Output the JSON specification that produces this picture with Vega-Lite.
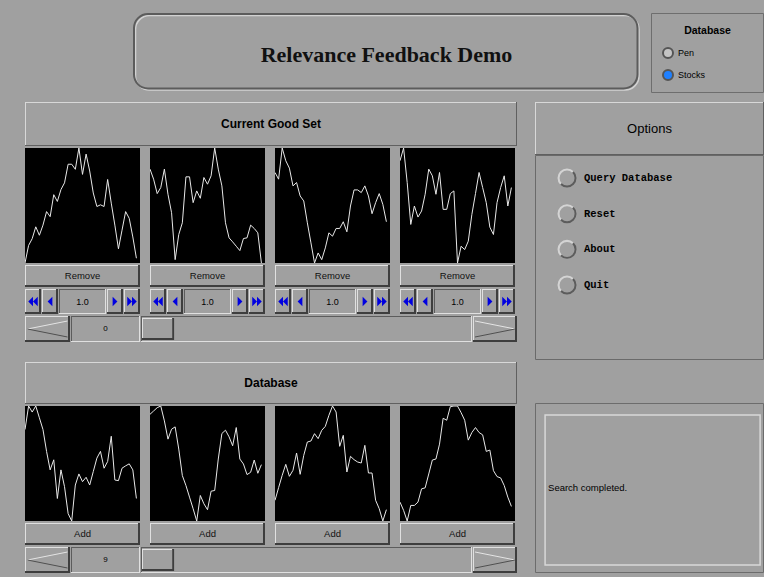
{
"$schema":"https://vega.github.io/schema/vega-lite/v6.json",
"background":"#a0a0a0",
"padding":{"left":25,"top":13,"right":0,"bottom":4},
"config":{"view":{"stroke":null},"text":{"font":"Liberation Sans","color":"#000"}},
"datasets":{
"series":[
{"set":"good","panel":1,"t":0,"v":6},{"set":"good","panel":1,"t":1,"v":58},{"set":"good","panel":1,"t":2,"v":78},{"set":"good","panel":1,"t":3,"v":113},{"set":"good","panel":1,"t":4,"v":88},{"set":"good","panel":1,"t":5,"v":118},{"set":"good","panel":1,"t":6,"v":158},{"set":"good","panel":1,"t":7,"v":143},{"set":"good","panel":1,"t":8,"v":208},{"set":"good","panel":1,"t":9,"v":188},{"set":"good","panel":1,"t":10,"v":223},{"set":"good","panel":1,"t":11,"v":243},{"set":"good","panel":1,"t":12,"v":298},{"set":"good","panel":1,"t":13,"v":298},{"set":"good","panel":1,"t":14,"v":283},{"set":"good","panel":1,"t":15,"v":346},{"set":"good","panel":1,"t":16,"v":268},{"set":"good","panel":1,"t":17,"v":328},{"set":"good","panel":1,"t":18,"v":278},{"set":"good","panel":1,"t":19,"v":213},{"set":"good","panel":1,"t":20,"v":173},{"set":"good","panel":1,"t":21,"v":178},{"set":"good","panel":1,"t":22,"v":173},{"set":"good","panel":1,"t":23,"v":253},{"set":"good","panel":1,"t":24,"v":183},{"set":"good","panel":1,"t":25,"v":118},{"set":"good","panel":1,"t":26,"v":48},{"set":"good","panel":1,"t":27,"v":103},{"set":"good","panel":1,"t":28,"v":158},{"set":"good","panel":1,"t":29,"v":138},{"set":"good","panel":1,"t":30,"v":83},{"set":"good","panel":1,"t":31,"v":20},
{"set":"good","panel":2,"t":0,"v":283},{"set":"good","panel":2,"t":1,"v":253},{"set":"good","panel":2,"t":2,"v":210},{"set":"good","panel":2,"t":3,"v":228},{"set":"good","panel":2,"t":4,"v":283},{"set":"good","panel":2,"t":5,"v":208},{"set":"good","panel":2,"t":6,"v":153},{"set":"good","panel":2,"t":7,"v":13},{"set":"good","panel":2,"t":8,"v":88},{"set":"good","panel":2,"t":9,"v":123},{"set":"good","panel":2,"t":10,"v":260},{"set":"good","panel":2,"t":11,"v":260},{"set":"good","panel":2,"t":12,"v":183},{"set":"good","panel":2,"t":13,"v":218},{"set":"good","panel":2,"t":14,"v":196},{"set":"good","panel":2,"t":15,"v":258},{"set":"good","panel":2,"t":16,"v":238},{"set":"good","panel":2,"t":17,"v":263},{"set":"good","panel":2,"t":18,"v":346},{"set":"good","panel":2,"t":19,"v":283},{"set":"good","panel":2,"t":20,"v":233},{"set":"good","panel":2,"t":21,"v":123},{"set":"good","panel":2,"t":22,"v":78},{"set":"good","panel":2,"t":23,"v":66},{"set":"good","panel":2,"t":24,"v":53},{"set":"good","panel":2,"t":25,"v":40},{"set":"good","panel":2,"t":26,"v":76},{"set":"good","panel":2,"t":27,"v":78},{"set":"good","panel":2,"t":28,"v":116},{"set":"good","panel":2,"t":29,"v":106},{"set":"good","panel":2,"t":30,"v":93},{"set":"good","panel":2,"t":31,"v":3},
{"set":"good","panel":3,"t":0,"v":273},{"set":"good","panel":3,"t":1,"v":253},{"set":"good","panel":3,"t":2,"v":346},{"set":"good","panel":3,"t":3,"v":308},{"set":"good","panel":3,"t":4,"v":286},{"set":"good","panel":3,"t":5,"v":233},{"set":"good","panel":3,"t":6,"v":243},{"set":"good","panel":3,"t":7,"v":203},{"set":"good","panel":3,"t":8,"v":188},{"set":"good","panel":3,"t":9,"v":123},{"set":"good","panel":3,"t":10,"v":63},{"set":"good","panel":3,"t":11,"v":3},{"set":"good","panel":3,"t":12,"v":33},{"set":"good","panel":3,"t":13,"v":13},{"set":"good","panel":3,"t":14,"v":48},{"set":"good","panel":3,"t":15,"v":93},{"set":"good","panel":3,"t":16,"v":83},{"set":"good","panel":3,"t":17,"v":106},{"set":"good","panel":3,"t":18,"v":106},{"set":"good","panel":3,"t":19,"v":126},{"set":"good","panel":3,"t":20,"v":96},{"set":"good","panel":3,"t":21,"v":173},{"set":"good","panel":3,"t":22,"v":221},{"set":"good","panel":3,"t":23,"v":221},{"set":"good","panel":3,"t":24,"v":213},{"set":"good","panel":3,"t":25,"v":233},{"set":"good","panel":3,"t":26,"v":203},{"set":"good","panel":3,"t":27,"v":150},{"set":"good","panel":3,"t":28,"v":183},{"set":"good","panel":3,"t":29,"v":210},{"set":"good","panel":3,"t":30,"v":178},{"set":"good","panel":3,"t":31,"v":126},
{"set":"good","panel":4,"t":0,"v":308},{"set":"good","panel":4,"t":1,"v":346},{"set":"good","panel":4,"t":2,"v":243},{"set":"good","panel":4,"t":3,"v":118},{"set":"good","panel":4,"t":4,"v":173},{"set":"good","panel":4,"t":5,"v":140},{"set":"good","panel":4,"t":6,"v":158},{"set":"good","panel":4,"t":7,"v":208},{"set":"good","panel":4,"t":8,"v":283},{"set":"good","panel":4,"t":9,"v":263},{"set":"good","panel":4,"t":10,"v":208},{"set":"good","panel":4,"t":11,"v":273},{"set":"good","panel":4,"t":12,"v":163},{"set":"good","panel":4,"t":13,"v":163},{"set":"good","panel":4,"t":14,"v":210},{"set":"good","panel":4,"t":15,"v":218},{"set":"good","panel":4,"t":16,"v":3},{"set":"good","panel":4,"t":17,"v":53},{"set":"good","panel":4,"t":18,"v":43},{"set":"good","panel":4,"t":19,"v":68},{"set":"good","panel":4,"t":20,"v":148},{"set":"good","panel":4,"t":21,"v":210},{"set":"good","panel":4,"t":22,"v":273},{"set":"good","panel":4,"t":23,"v":228},{"set":"good","panel":4,"t":24,"v":183},{"set":"good","panel":4,"t":25,"v":110},{"set":"good","panel":4,"t":26,"v":88},{"set":"good","panel":4,"t":27,"v":183},{"set":"good","panel":4,"t":28,"v":228},{"set":"good","panel":4,"t":29,"v":263},{"set":"good","panel":4,"t":30,"v":173},{"set":"good","panel":4,"t":31,"v":228},
{"set":"db","panel":1,"t":0,"v":272},{"set":"db","panel":1,"t":1,"v":342},{"set":"db","panel":1,"t":2,"v":324},{"set":"db","panel":1,"t":3,"v":342},{"set":"db","panel":1,"t":4,"v":307},{"set":"db","panel":1,"t":5,"v":272},{"set":"db","panel":1,"t":6,"v":207},{"set":"db","panel":1,"t":7,"v":152},{"set":"db","panel":1,"t":8,"v":182},{"set":"db","panel":1,"t":9,"v":67},{"set":"db","panel":1,"t":10,"v":152},{"set":"db","panel":1,"t":11,"v":102},{"set":"db","panel":1,"t":12,"v":22},{"set":"db","panel":1,"t":13,"v":0},{"set":"db","panel":1,"t":14,"v":107},{"set":"db","panel":1,"t":15,"v":140},{"set":"db","panel":1,"t":16,"v":117},{"set":"db","panel":1,"t":17,"v":130},{"set":"db","panel":1,"t":18,"v":107},{"set":"db","panel":1,"t":19,"v":147},{"set":"db","panel":1,"t":20,"v":187},{"set":"db","panel":1,"t":21,"v":207},{"set":"db","panel":1,"t":22,"v":157},{"set":"db","panel":1,"t":23,"v":177},{"set":"db","panel":1,"t":24,"v":252},{"set":"db","panel":1,"t":25,"v":122},{"set":"db","panel":1,"t":26,"v":120},{"set":"db","panel":1,"t":27,"v":157},{"set":"db","panel":1,"t":28,"v":164},{"set":"db","panel":1,"t":29,"v":170},{"set":"db","panel":1,"t":30,"v":152},{"set":"db","panel":1,"t":31,"v":67},
{"set":"db","panel":2,"t":0,"v":322},{"set":"db","panel":2,"t":1,"v":332},{"set":"db","panel":2,"t":2,"v":342},{"set":"db","panel":2,"t":3,"v":347},{"set":"db","panel":2,"t":4,"v":302},{"set":"db","panel":2,"t":5,"v":247},{"set":"db","panel":2,"t":6,"v":277},{"set":"db","panel":2,"t":7,"v":284},{"set":"db","panel":2,"t":8,"v":217},{"set":"db","panel":2,"t":9,"v":137},{"set":"db","panel":2,"t":10,"v":107},{"set":"db","panel":2,"t":11,"v":72},{"set":"db","panel":2,"t":12,"v":37},{"set":"db","panel":2,"t":13,"v":0},{"set":"db","panel":2,"t":14,"v":77},{"set":"db","panel":2,"t":15,"v":52},{"set":"db","panel":2,"t":16,"v":34},{"set":"db","panel":2,"t":17,"v":90},{"set":"db","panel":2,"t":18,"v":92},{"set":"db","panel":2,"t":19,"v":187},{"set":"db","panel":2,"t":20,"v":264},{"set":"db","panel":2,"t":21,"v":274},{"set":"db","panel":2,"t":22,"v":254},{"set":"db","panel":2,"t":23,"v":227},{"set":"db","panel":2,"t":24,"v":282},{"set":"db","panel":2,"t":25,"v":187},{"set":"db","panel":2,"t":26,"v":172},{"set":"db","panel":2,"t":27,"v":140},{"set":"db","panel":2,"t":28,"v":147},{"set":"db","panel":2,"t":29,"v":184},{"set":"db","panel":2,"t":30,"v":144},{"set":"db","panel":2,"t":31,"v":170},
{"set":"db","panel":3,"t":0,"v":62},{"set":"db","panel":3,"t":1,"v":100},{"set":"db","panel":3,"t":2,"v":137},{"set":"db","panel":3,"t":3,"v":170},{"set":"db","panel":3,"t":4,"v":134},{"set":"db","panel":3,"t":5,"v":152},{"set":"db","panel":3,"t":6,"v":204},{"set":"db","panel":3,"t":7,"v":140},{"set":"db","panel":3,"t":8,"v":197},{"set":"db","panel":3,"t":9,"v":237},{"set":"db","panel":3,"t":10,"v":240},{"set":"db","panel":3,"t":11,"v":262},{"set":"db","panel":3,"t":12,"v":247},{"set":"db","panel":3,"t":13,"v":272},{"set":"db","panel":3,"t":14,"v":284},{"set":"db","panel":3,"t":15,"v":317},{"set":"db","panel":3,"t":16,"v":345},{"set":"db","panel":3,"t":17,"v":327},{"set":"db","panel":3,"t":18,"v":224},{"set":"db","panel":3,"t":19,"v":257},{"set":"db","panel":3,"t":20,"v":147},{"set":"db","panel":3,"t":21,"v":194},{"set":"db","panel":3,"t":22,"v":184},{"set":"db","panel":3,"t":23,"v":177},{"set":"db","panel":3,"t":24,"v":174},{"set":"db","panel":3,"t":25,"v":227},{"set":"db","panel":3,"t":26,"v":144},{"set":"db","panel":3,"t":27,"v":144},{"set":"db","panel":3,"t":28,"v":62},{"set":"db","panel":3,"t":29,"v":37},{"set":"db","panel":3,"t":30,"v":0},{"set":"db","panel":3,"t":31,"v":34},
{"set":"db","panel":4,"t":0,"v":57},{"set":"db","panel":4,"t":1,"v":32},{"set":"db","panel":4,"t":2,"v":0},{"set":"db","panel":4,"t":3,"v":47},{"set":"db","panel":4,"t":4,"v":47},{"set":"db","panel":4,"t":5,"v":57},{"set":"db","panel":4,"t":6,"v":97},{"set":"db","panel":4,"t":7,"v":100},{"set":"db","panel":4,"t":8,"v":142},{"set":"db","panel":4,"t":9,"v":184},{"set":"db","panel":4,"t":10,"v":187},{"set":"db","panel":4,"t":11,"v":232},{"set":"db","panel":4,"t":12,"v":310},{"set":"db","panel":4,"t":13,"v":304},{"set":"db","panel":4,"t":14,"v":345},{"set":"db","panel":4,"t":15,"v":347},{"set":"db","panel":4,"t":16,"v":347},{"set":"db","panel":4,"t":17,"v":327},{"set":"db","panel":4,"t":18,"v":304},{"set":"db","panel":4,"t":19,"v":244},{"set":"db","panel":4,"t":20,"v":267},{"set":"db","panel":4,"t":21,"v":282},{"set":"db","panel":4,"t":22,"v":267},{"set":"db","panel":4,"t":23,"v":260},{"set":"db","panel":4,"t":24,"v":210},{"set":"db","panel":4,"t":25,"v":214},{"set":"db","panel":4,"t":26,"v":152},{"set":"db","panel":4,"t":27,"v":134},{"set":"db","panel":4,"t":28,"v":130},{"set":"db","panel":4,"t":29,"v":107},{"set":"db","panel":4,"t":30,"v":72},{"set":"db","panel":4,"t":31,"v":44}
]
},
"spacing":9,
"vconcat":[
{"spacing":11,"hconcat":[
 {"width":97,"height":1,"data":{"values":[{}]},"mark":{"type":"rect","opacity":0},"encoding":{"x":{"datum":0,"type":"quantitative","axis":null},"x2":{"datum":1},"y":{"datum":0,"type":"quantitative","axis":null},"y2":{"datum":1}}},
 {"width":507,"height":78,"data":{"values":[{"label":"Relevance Feedback Demo"}]},"layer":[
  {"mark":{"type":"rect","fillOpacity":0,"stroke":"#d2d2d2","strokeWidth":1.5,"cornerRadius":14,"xOffset":2.5,"x2Offset":-1,"yOffset":-1,"y2Offset":2.5},"encoding":{"x":{"datum":0,"type":"quantitative","scale":{"domain":[0,1],"nice":false,"zero":false},"axis":null},"x2":{"datum":1},"y":{"datum":0,"type":"quantitative","scale":{"domain":[0,1],"nice":false,"zero":false},"axis":null},"y2":{"datum":1}}},
  {"mark":{"type":"rect","fillOpacity":0,"stroke":"#5c5c5c","strokeWidth":2,"cornerRadius":14,"xOffset":1,"x2Offset":-2.5,"yOffset":-2.5,"y2Offset":1},"encoding":{"x":{"datum":0,"type":"quantitative"},"x2":{"datum":1},"y":{"datum":0,"type":"quantitative"},"y2":{"datum":1}}},
  {"mark":{"type":"text","font":"Liberation Serif","fontWeight":"bold","fontSize":22,"color":"#111","dy":3},"encoding":{"text":{"field":"label"}}}
 ]},
 {"width":113,"height":80,
  "data":{"values":[{"item":"Database","kind":"title","on":false},{"item":"Pen","kind":"radio","on":false},{"item":"Stocks","kind":"radio","on":true}]},
  "resolve":{"scale":{"x":"independent","y":"independent"}},
  "layer":[
   {"transform":[{"filter":"datum.kind==='title'"}],"mark":{"type":"rect","fillOpacity":0,"stroke":"#6e6e6e","strokeWidth":1,"xOffset":0.5,"x2Offset":-0.5,"yOffset":-0.5,"y2Offset":0.5},"encoding":{"x":{"datum":0,"type":"quantitative","scale":{"domain":[0,1],"nice":false,"zero":false},"axis":null},"x2":{"datum":1},"y":{"datum":0,"type":"quantitative","scale":{"domain":[0,1],"nice":false,"zero":false},"axis":null},"y2":{"datum":1}}},
   {"transform":[{"filter":"datum.kind==='title'"}],"mark":{"type":"text","fontWeight":"bold","fontSize":10.5},"encoding":{"y":{"field":"item","type":"nominal","scale":{"type":"point","domain":["Database","Pen","Stocks"],"range":[18,62],"padding":0},"axis":null},"text":{"field":"item"}}},
   {"transform":[{"filter":"datum.kind==='radio'"}],"mark":{"type":"point","shape":"circle","filled":true,"size":100,"stroke":"#555555","strokeWidth":2,"opacity":1},"encoding":{"x":{"datum":"radio","type":"nominal","scale":{"type":"point","domain":["radio","label"],"range":[17,27],"padding":0},"axis":null},"y":{"field":"item","type":"nominal","scale":{"type":"point","domain":["Database","Pen","Stocks"],"range":[18,62],"padding":0},"axis":null},"fill":{"condition":{"test":"datum.on","value":"#1f80ff"},"value":"#c4c4c4"}}},
   {"transform":[{"filter":"datum.kind==='radio'"}],"mark":{"type":"text","align":"left","fontSize":9},"encoding":{"x":{"datum":"label","type":"nominal","scale":{"type":"point","domain":["radio","label"],"range":[17,27],"padding":0},"axis":null},"y":{"field":"item","type":"nominal","scale":{"type":"point","domain":["Database","Pen","Stocks"],"range":[18,62],"padding":0},"axis":null},"text":{"field":"item"}}}
  ]}
]},
{"spacing":18,"hconcat":[
 {"spacing":2,"vconcat":[
  {"width":492,"height":44,"data":{"values":[{"label":"Current Good Set"}]},"layer":[
   {"mark":{"type":"rect","fill":"#606060"},"encoding":{"x":{"datum":0,"type":"quantitative","scale":{"domain":[0,1],"nice":false,"zero":false},"axis":null},"x2":{"datum":1},"y":{"datum":0,"type":"quantitative","scale":{"domain":[0,1],"nice":false,"zero":false},"axis":null},"y2":{"datum":1}}},
   {"mark":{"type":"rect","fill":"#d8d8d8","x2Offset":-1,"yOffset":-1},"encoding":{"x":{"datum":0,"type":"quantitative"},"x2":{"datum":1},"y":{"datum":0,"type":"quantitative"},"y2":{"datum":1}}},
   {"mark":{"type":"rect","fill":"#a0a0a0","xOffset":1,"x2Offset":-1,"yOffset":-1,"y2Offset":1},"encoding":{"x":{"datum":0,"type":"quantitative"},"x2":{"datum":1},"y":{"datum":0,"type":"quantitative"},"y2":{"datum":1}}},
   {"mark":{"type":"text","fontWeight":"bold","fontSize":12},"encoding":{"text":{"field":"label"}}}
  ]},
  {"spacing":10,"hconcat":[
   {"width":115,"height":115,"view":{"fill":"#000000","stroke":null},"data":{"name":"series"},"transform":[{"filter":"datum.set==='good' && datum.panel===1"}],"mark":{"type":"line","color":"#e8e8e8","strokeWidth":1,"strokeJoin":"round","clip":true},"encoding":{"x":{"field":"t","type":"quantitative","axis":null,"scale":{"domain":[0,32],"nice":false}},"y":{"field":"v","type":"quantitative","axis":null,"scale":{"zero":false,"nice":false}}}},
   {"width":115,"height":115,"view":{"fill":"#000000","stroke":null},"data":{"name":"series"},"transform":[{"filter":"datum.set==='good' && datum.panel===2"}],"mark":{"type":"line","color":"#e8e8e8","strokeWidth":1,"strokeJoin":"round","clip":true},"encoding":{"x":{"field":"t","type":"quantitative","axis":null,"scale":{"domain":[0,32],"nice":false}},"y":{"field":"v","type":"quantitative","axis":null,"scale":{"zero":false,"nice":false}}}},
   {"width":115,"height":115,"view":{"fill":"#000000","stroke":null},"data":{"name":"series"},"transform":[{"filter":"datum.set==='good' && datum.panel===3"}],"mark":{"type":"line","color":"#e8e8e8","strokeWidth":1,"strokeJoin":"round","clip":true},"encoding":{"x":{"field":"t","type":"quantitative","axis":null,"scale":{"domain":[0,32],"nice":false}},"y":{"field":"v","type":"quantitative","axis":null,"scale":{"zero":false,"nice":false}}}},
   {"width":115,"height":115,"view":{"fill":"#000000","stroke":null},"data":{"name":"series"},"transform":[{"filter":"datum.set==='good' && datum.panel===4"}],"mark":{"type":"line","color":"#e8e8e8","strokeWidth":1,"strokeJoin":"round","clip":true},"encoding":{"x":{"field":"t","type":"quantitative","axis":null,"scale":{"domain":[0,32],"nice":false}},"y":{"field":"v","type":"quantitative","axis":null,"scale":{"zero":false,"nice":false}}}}
  ]},
  {"spacing":10,"hconcat":[
   {"width":115,"height":22,"data":{"values":[{"label":"Remove"}]},"layer":[
    {"mark":{"type":"rect","fill":"#3e3e3e"},"encoding":{"x":{"datum":0,"type":"quantitative","scale":{"domain":[0,1],"nice":false,"zero":false},"axis":null},"x2":{"datum":1},"y":{"datum":0,"type":"quantitative","scale":{"domain":[0,1],"nice":false,"zero":false},"axis":null},"y2":{"datum":1}}},
    {"mark":{"type":"rect","fill":"#e0e0e0","x2Offset":-2,"yOffset":-2},"encoding":{"x":{"datum":0,"type":"quantitative"},"x2":{"datum":1},"y":{"datum":0,"type":"quantitative"},"y2":{"datum":1}}},
    {"mark":{"type":"rect","fill":"#a0a0a0","xOffset":1,"x2Offset":-2,"yOffset":-2,"y2Offset":1},"encoding":{"x":{"datum":0,"type":"quantitative"},"x2":{"datum":1},"y":{"datum":0,"type":"quantitative"},"y2":{"datum":1}}},
    {"mark":{"type":"text","fontSize":9.5,"color":"#111"},"encoding":{"text":{"field":"label"}}}
   ]},
   {"width":115,"height":22,"data":{"values":[{"label":"Remove"}]},"layer":[
    {"mark":{"type":"rect","fill":"#3e3e3e"},"encoding":{"x":{"datum":0,"type":"quantitative","scale":{"domain":[0,1],"nice":false,"zero":false},"axis":null},"x2":{"datum":1},"y":{"datum":0,"type":"quantitative","scale":{"domain":[0,1],"nice":false,"zero":false},"axis":null},"y2":{"datum":1}}},
    {"mark":{"type":"rect","fill":"#e0e0e0","x2Offset":-2,"yOffset":-2},"encoding":{"x":{"datum":0,"type":"quantitative"},"x2":{"datum":1},"y":{"datum":0,"type":"quantitative"},"y2":{"datum":1}}},
    {"mark":{"type":"rect","fill":"#a0a0a0","xOffset":1,"x2Offset":-2,"yOffset":-2,"y2Offset":1},"encoding":{"x":{"datum":0,"type":"quantitative"},"x2":{"datum":1},"y":{"datum":0,"type":"quantitative"},"y2":{"datum":1}}},
    {"mark":{"type":"text","fontSize":9.5,"color":"#111"},"encoding":{"text":{"field":"label"}}}
   ]},
   {"width":115,"height":22,"data":{"values":[{"label":"Remove"}]},"layer":[
    {"mark":{"type":"rect","fill":"#3e3e3e"},"encoding":{"x":{"datum":0,"type":"quantitative","scale":{"domain":[0,1],"nice":false,"zero":false},"axis":null},"x2":{"datum":1},"y":{"datum":0,"type":"quantitative","scale":{"domain":[0,1],"nice":false,"zero":false},"axis":null},"y2":{"datum":1}}},
    {"mark":{"type":"rect","fill":"#e0e0e0","x2Offset":-2,"yOffset":-2},"encoding":{"x":{"datum":0,"type":"quantitative"},"x2":{"datum":1},"y":{"datum":0,"type":"quantitative"},"y2":{"datum":1}}},
    {"mark":{"type":"rect","fill":"#a0a0a0","xOffset":1,"x2Offset":-2,"yOffset":-2,"y2Offset":1},"encoding":{"x":{"datum":0,"type":"quantitative"},"x2":{"datum":1},"y":{"datum":0,"type":"quantitative"},"y2":{"datum":1}}},
    {"mark":{"type":"text","fontSize":9.5,"color":"#111"},"encoding":{"text":{"field":"label"}}}
   ]},
   {"width":115,"height":22,"data":{"values":[{"label":"Remove"}]},"layer":[
    {"mark":{"type":"rect","fill":"#3e3e3e"},"encoding":{"x":{"datum":0,"type":"quantitative","scale":{"domain":[0,1],"nice":false,"zero":false},"axis":null},"x2":{"datum":1},"y":{"datum":0,"type":"quantitative","scale":{"domain":[0,1],"nice":false,"zero":false},"axis":null},"y2":{"datum":1}}},
    {"mark":{"type":"rect","fill":"#e0e0e0","x2Offset":-2,"yOffset":-2},"encoding":{"x":{"datum":0,"type":"quantitative"},"x2":{"datum":1},"y":{"datum":0,"type":"quantitative"},"y2":{"datum":1}}},
    {"mark":{"type":"rect","fill":"#a0a0a0","xOffset":1,"x2Offset":-2,"yOffset":-2,"y2Offset":1},"encoding":{"x":{"datum":0,"type":"quantitative"},"x2":{"datum":1},"y":{"datum":0,"type":"quantitative"},"y2":{"datum":1}}},
    {"mark":{"type":"text","fontSize":9.5,"color":"#111"},"encoding":{"text":{"field":"label"}}}
   ]}
  ]},
  {"spacing":10,"hconcat":[
   {"spacing":1,"hconcat":[
    {"width":16,"height":25,"data":{"values":[{"btn":"first"}]},"layer":[
     {"mark":{"type":"rect","fill":"#3e3e3e"},"encoding":{"x":{"datum":0,"type":"quantitative","scale":{"domain":[0,1],"nice":false,"zero":false},"axis":null},"x2":{"datum":1},"y":{"datum":0,"type":"quantitative","scale":{"domain":[0,1],"nice":false,"zero":false},"axis":null},"y2":{"datum":1}}},
     {"mark":{"type":"rect","fill":"#e0e0e0","x2Offset":-2,"yOffset":-2},"encoding":{"x":{"datum":0,"type":"quantitative"},"x2":{"datum":1},"y":{"datum":0,"type":"quantitative"},"y2":{"datum":1}}},
     {"mark":{"type":"rect","fill":"#a0a0a0","xOffset":1,"x2Offset":-2,"yOffset":-2,"y2Offset":1},"encoding":{"x":{"datum":0,"type":"quantitative"},"x2":{"datum":1},"y":{"datum":0,"type":"quantitative"},"y2":{"datum":1}}},
     {"mark":{"type":"point","shape":"M0,-1L-1,0L0,1ZM1,-1L0,0L1,1Z","filled":true,"size":90,"color":"#0000e0","opacity":1},"encoding":{}}
    ]},
    {"width":16,"height":25,"data":{"values":[{"btn":"prev"}]},"layer":[
     {"mark":{"type":"rect","fill":"#3e3e3e"},"encoding":{"x":{"datum":0,"type":"quantitative","scale":{"domain":[0,1],"nice":false,"zero":false},"axis":null},"x2":{"datum":1},"y":{"datum":0,"type":"quantitative","scale":{"domain":[0,1],"nice":false,"zero":false},"axis":null},"y2":{"datum":1}}},
     {"mark":{"type":"rect","fill":"#e0e0e0","x2Offset":-2,"yOffset":-2},"encoding":{"x":{"datum":0,"type":"quantitative"},"x2":{"datum":1},"y":{"datum":0,"type":"quantitative"},"y2":{"datum":1}}},
     {"mark":{"type":"rect","fill":"#a0a0a0","xOffset":1,"x2Offset":-2,"yOffset":-2,"y2Offset":1},"encoding":{"x":{"datum":0,"type":"quantitative"},"x2":{"datum":1},"y":{"datum":0,"type":"quantitative"},"y2":{"datum":1}}},
     {"mark":{"type":"point","shape":"M0.5,-1L-0.5,0L0.5,1Z","filled":true,"size":90,"color":"#0000e0","opacity":1},"encoding":{}}
    ]},
    {"width":47,"height":25,"data":{"values":[{"label":"1.0"}]},"layer":[
     {"mark":{"type":"rect","fill":"#e0e0e0"},"encoding":{"x":{"datum":0,"type":"quantitative","scale":{"domain":[0,1],"nice":false,"zero":false},"axis":null},"x2":{"datum":1},"y":{"datum":0,"type":"quantitative","scale":{"domain":[0,1],"nice":false,"zero":false},"axis":null},"y2":{"datum":1}}},
     {"mark":{"type":"rect","fill":"#5c5c5c","x2Offset":-1,"yOffset":-1},"encoding":{"x":{"datum":0,"type":"quantitative"},"x2":{"datum":1},"y":{"datum":0,"type":"quantitative"},"y2":{"datum":1}}},
     {"mark":{"type":"rect","fill":"#a0a0a0","xOffset":1,"x2Offset":-1,"yOffset":-1,"y2Offset":1},"encoding":{"x":{"datum":0,"type":"quantitative"},"x2":{"datum":1},"y":{"datum":0,"type":"quantitative"},"y2":{"datum":1}}},
     {"mark":{"type":"text","fontSize":9},"encoding":{"text":{"field":"label"}}}
    ]},
    {"width":16,"height":25,"data":{"values":[{"btn":"next"}]},"layer":[
     {"mark":{"type":"rect","fill":"#3e3e3e"},"encoding":{"x":{"datum":0,"type":"quantitative","scale":{"domain":[0,1],"nice":false,"zero":false},"axis":null},"x2":{"datum":1},"y":{"datum":0,"type":"quantitative","scale":{"domain":[0,1],"nice":false,"zero":false},"axis":null},"y2":{"datum":1}}},
     {"mark":{"type":"rect","fill":"#e0e0e0","x2Offset":-2,"yOffset":-2},"encoding":{"x":{"datum":0,"type":"quantitative"},"x2":{"datum":1},"y":{"datum":0,"type":"quantitative"},"y2":{"datum":1}}},
     {"mark":{"type":"rect","fill":"#a0a0a0","xOffset":1,"x2Offset":-2,"yOffset":-2,"y2Offset":1},"encoding":{"x":{"datum":0,"type":"quantitative"},"x2":{"datum":1},"y":{"datum":0,"type":"quantitative"},"y2":{"datum":1}}},
     {"mark":{"type":"point","shape":"M-0.5,-1L0.5,0L-0.5,1Z","filled":true,"size":90,"color":"#0000e0","opacity":1},"encoding":{}}
    ]},
    {"width":16,"height":25,"data":{"values":[{"btn":"last"}]},"layer":[
     {"mark":{"type":"rect","fill":"#3e3e3e"},"encoding":{"x":{"datum":0,"type":"quantitative","scale":{"domain":[0,1],"nice":false,"zero":false},"axis":null},"x2":{"datum":1},"y":{"datum":0,"type":"quantitative","scale":{"domain":[0,1],"nice":false,"zero":false},"axis":null},"y2":{"datum":1}}},
     {"mark":{"type":"rect","fill":"#e0e0e0","x2Offset":-2,"yOffset":-2},"encoding":{"x":{"datum":0,"type":"quantitative"},"x2":{"datum":1},"y":{"datum":0,"type":"quantitative"},"y2":{"datum":1}}},
     {"mark":{"type":"rect","fill":"#a0a0a0","xOffset":1,"x2Offset":-2,"yOffset":-2,"y2Offset":1},"encoding":{"x":{"datum":0,"type":"quantitative"},"x2":{"datum":1},"y":{"datum":0,"type":"quantitative"},"y2":{"datum":1}}},
     {"mark":{"type":"point","shape":"M-1,-1L0,0L-1,1ZM0,-1L1,0L0,1Z","filled":true,"size":90,"color":"#0000e0","opacity":1},"encoding":{}}
    ]}
   ]},
   {"spacing":1,"hconcat":[
    {"width":16,"height":25,"data":{"values":[{"btn":"first"}]},"layer":[
     {"mark":{"type":"rect","fill":"#3e3e3e"},"encoding":{"x":{"datum":0,"type":"quantitative","scale":{"domain":[0,1],"nice":false,"zero":false},"axis":null},"x2":{"datum":1},"y":{"datum":0,"type":"quantitative","scale":{"domain":[0,1],"nice":false,"zero":false},"axis":null},"y2":{"datum":1}}},
     {"mark":{"type":"rect","fill":"#e0e0e0","x2Offset":-2,"yOffset":-2},"encoding":{"x":{"datum":0,"type":"quantitative"},"x2":{"datum":1},"y":{"datum":0,"type":"quantitative"},"y2":{"datum":1}}},
     {"mark":{"type":"rect","fill":"#a0a0a0","xOffset":1,"x2Offset":-2,"yOffset":-2,"y2Offset":1},"encoding":{"x":{"datum":0,"type":"quantitative"},"x2":{"datum":1},"y":{"datum":0,"type":"quantitative"},"y2":{"datum":1}}},
     {"mark":{"type":"point","shape":"M0,-1L-1,0L0,1ZM1,-1L0,0L1,1Z","filled":true,"size":90,"color":"#0000e0","opacity":1},"encoding":{}}
    ]},
    {"width":16,"height":25,"data":{"values":[{"btn":"prev"}]},"layer":[
     {"mark":{"type":"rect","fill":"#3e3e3e"},"encoding":{"x":{"datum":0,"type":"quantitative","scale":{"domain":[0,1],"nice":false,"zero":false},"axis":null},"x2":{"datum":1},"y":{"datum":0,"type":"quantitative","scale":{"domain":[0,1],"nice":false,"zero":false},"axis":null},"y2":{"datum":1}}},
     {"mark":{"type":"rect","fill":"#e0e0e0","x2Offset":-2,"yOffset":-2},"encoding":{"x":{"datum":0,"type":"quantitative"},"x2":{"datum":1},"y":{"datum":0,"type":"quantitative"},"y2":{"datum":1}}},
     {"mark":{"type":"rect","fill":"#a0a0a0","xOffset":1,"x2Offset":-2,"yOffset":-2,"y2Offset":1},"encoding":{"x":{"datum":0,"type":"quantitative"},"x2":{"datum":1},"y":{"datum":0,"type":"quantitative"},"y2":{"datum":1}}},
     {"mark":{"type":"point","shape":"M0.5,-1L-0.5,0L0.5,1Z","filled":true,"size":90,"color":"#0000e0","opacity":1},"encoding":{}}
    ]},
    {"width":47,"height":25,"data":{"values":[{"label":"1.0"}]},"layer":[
     {"mark":{"type":"rect","fill":"#e0e0e0"},"encoding":{"x":{"datum":0,"type":"quantitative","scale":{"domain":[0,1],"nice":false,"zero":false},"axis":null},"x2":{"datum":1},"y":{"datum":0,"type":"quantitative","scale":{"domain":[0,1],"nice":false,"zero":false},"axis":null},"y2":{"datum":1}}},
     {"mark":{"type":"rect","fill":"#5c5c5c","x2Offset":-1,"yOffset":-1},"encoding":{"x":{"datum":0,"type":"quantitative"},"x2":{"datum":1},"y":{"datum":0,"type":"quantitative"},"y2":{"datum":1}}},
     {"mark":{"type":"rect","fill":"#a0a0a0","xOffset":1,"x2Offset":-1,"yOffset":-1,"y2Offset":1},"encoding":{"x":{"datum":0,"type":"quantitative"},"x2":{"datum":1},"y":{"datum":0,"type":"quantitative"},"y2":{"datum":1}}},
     {"mark":{"type":"text","fontSize":9},"encoding":{"text":{"field":"label"}}}
    ]},
    {"width":16,"height":25,"data":{"values":[{"btn":"next"}]},"layer":[
     {"mark":{"type":"rect","fill":"#3e3e3e"},"encoding":{"x":{"datum":0,"type":"quantitative","scale":{"domain":[0,1],"nice":false,"zero":false},"axis":null},"x2":{"datum":1},"y":{"datum":0,"type":"quantitative","scale":{"domain":[0,1],"nice":false,"zero":false},"axis":null},"y2":{"datum":1}}},
     {"mark":{"type":"rect","fill":"#e0e0e0","x2Offset":-2,"yOffset":-2},"encoding":{"x":{"datum":0,"type":"quantitative"},"x2":{"datum":1},"y":{"datum":0,"type":"quantitative"},"y2":{"datum":1}}},
     {"mark":{"type":"rect","fill":"#a0a0a0","xOffset":1,"x2Offset":-2,"yOffset":-2,"y2Offset":1},"encoding":{"x":{"datum":0,"type":"quantitative"},"x2":{"datum":1},"y":{"datum":0,"type":"quantitative"},"y2":{"datum":1}}},
     {"mark":{"type":"point","shape":"M-0.5,-1L0.5,0L-0.5,1Z","filled":true,"size":90,"color":"#0000e0","opacity":1},"encoding":{}}
    ]},
    {"width":16,"height":25,"data":{"values":[{"btn":"last"}]},"layer":[
     {"mark":{"type":"rect","fill":"#3e3e3e"},"encoding":{"x":{"datum":0,"type":"quantitative","scale":{"domain":[0,1],"nice":false,"zero":false},"axis":null},"x2":{"datum":1},"y":{"datum":0,"type":"quantitative","scale":{"domain":[0,1],"nice":false,"zero":false},"axis":null},"y2":{"datum":1}}},
     {"mark":{"type":"rect","fill":"#e0e0e0","x2Offset":-2,"yOffset":-2},"encoding":{"x":{"datum":0,"type":"quantitative"},"x2":{"datum":1},"y":{"datum":0,"type":"quantitative"},"y2":{"datum":1}}},
     {"mark":{"type":"rect","fill":"#a0a0a0","xOffset":1,"x2Offset":-2,"yOffset":-2,"y2Offset":1},"encoding":{"x":{"datum":0,"type":"quantitative"},"x2":{"datum":1},"y":{"datum":0,"type":"quantitative"},"y2":{"datum":1}}},
     {"mark":{"type":"point","shape":"M-1,-1L0,0L-1,1ZM0,-1L1,0L0,1Z","filled":true,"size":90,"color":"#0000e0","opacity":1},"encoding":{}}
    ]}
   ]},
   {"spacing":1,"hconcat":[
    {"width":16,"height":25,"data":{"values":[{"btn":"first"}]},"layer":[
     {"mark":{"type":"rect","fill":"#3e3e3e"},"encoding":{"x":{"datum":0,"type":"quantitative","scale":{"domain":[0,1],"nice":false,"zero":false},"axis":null},"x2":{"datum":1},"y":{"datum":0,"type":"quantitative","scale":{"domain":[0,1],"nice":false,"zero":false},"axis":null},"y2":{"datum":1}}},
     {"mark":{"type":"rect","fill":"#e0e0e0","x2Offset":-2,"yOffset":-2},"encoding":{"x":{"datum":0,"type":"quantitative"},"x2":{"datum":1},"y":{"datum":0,"type":"quantitative"},"y2":{"datum":1}}},
     {"mark":{"type":"rect","fill":"#a0a0a0","xOffset":1,"x2Offset":-2,"yOffset":-2,"y2Offset":1},"encoding":{"x":{"datum":0,"type":"quantitative"},"x2":{"datum":1},"y":{"datum":0,"type":"quantitative"},"y2":{"datum":1}}},
     {"mark":{"type":"point","shape":"M0,-1L-1,0L0,1ZM1,-1L0,0L1,1Z","filled":true,"size":90,"color":"#0000e0","opacity":1},"encoding":{}}
    ]},
    {"width":16,"height":25,"data":{"values":[{"btn":"prev"}]},"layer":[
     {"mark":{"type":"rect","fill":"#3e3e3e"},"encoding":{"x":{"datum":0,"type":"quantitative","scale":{"domain":[0,1],"nice":false,"zero":false},"axis":null},"x2":{"datum":1},"y":{"datum":0,"type":"quantitative","scale":{"domain":[0,1],"nice":false,"zero":false},"axis":null},"y2":{"datum":1}}},
     {"mark":{"type":"rect","fill":"#e0e0e0","x2Offset":-2,"yOffset":-2},"encoding":{"x":{"datum":0,"type":"quantitative"},"x2":{"datum":1},"y":{"datum":0,"type":"quantitative"},"y2":{"datum":1}}},
     {"mark":{"type":"rect","fill":"#a0a0a0","xOffset":1,"x2Offset":-2,"yOffset":-2,"y2Offset":1},"encoding":{"x":{"datum":0,"type":"quantitative"},"x2":{"datum":1},"y":{"datum":0,"type":"quantitative"},"y2":{"datum":1}}},
     {"mark":{"type":"point","shape":"M0.5,-1L-0.5,0L0.5,1Z","filled":true,"size":90,"color":"#0000e0","opacity":1},"encoding":{}}
    ]},
    {"width":47,"height":25,"data":{"values":[{"label":"1.0"}]},"layer":[
     {"mark":{"type":"rect","fill":"#e0e0e0"},"encoding":{"x":{"datum":0,"type":"quantitative","scale":{"domain":[0,1],"nice":false,"zero":false},"axis":null},"x2":{"datum":1},"y":{"datum":0,"type":"quantitative","scale":{"domain":[0,1],"nice":false,"zero":false},"axis":null},"y2":{"datum":1}}},
     {"mark":{"type":"rect","fill":"#5c5c5c","x2Offset":-1,"yOffset":-1},"encoding":{"x":{"datum":0,"type":"quantitative"},"x2":{"datum":1},"y":{"datum":0,"type":"quantitative"},"y2":{"datum":1}}},
     {"mark":{"type":"rect","fill":"#a0a0a0","xOffset":1,"x2Offset":-1,"yOffset":-1,"y2Offset":1},"encoding":{"x":{"datum":0,"type":"quantitative"},"x2":{"datum":1},"y":{"datum":0,"type":"quantitative"},"y2":{"datum":1}}},
     {"mark":{"type":"text","fontSize":9},"encoding":{"text":{"field":"label"}}}
    ]},
    {"width":16,"height":25,"data":{"values":[{"btn":"next"}]},"layer":[
     {"mark":{"type":"rect","fill":"#3e3e3e"},"encoding":{"x":{"datum":0,"type":"quantitative","scale":{"domain":[0,1],"nice":false,"zero":false},"axis":null},"x2":{"datum":1},"y":{"datum":0,"type":"quantitative","scale":{"domain":[0,1],"nice":false,"zero":false},"axis":null},"y2":{"datum":1}}},
     {"mark":{"type":"rect","fill":"#e0e0e0","x2Offset":-2,"yOffset":-2},"encoding":{"x":{"datum":0,"type":"quantitative"},"x2":{"datum":1},"y":{"datum":0,"type":"quantitative"},"y2":{"datum":1}}},
     {"mark":{"type":"rect","fill":"#a0a0a0","xOffset":1,"x2Offset":-2,"yOffset":-2,"y2Offset":1},"encoding":{"x":{"datum":0,"type":"quantitative"},"x2":{"datum":1},"y":{"datum":0,"type":"quantitative"},"y2":{"datum":1}}},
     {"mark":{"type":"point","shape":"M-0.5,-1L0.5,0L-0.5,1Z","filled":true,"size":90,"color":"#0000e0","opacity":1},"encoding":{}}
    ]},
    {"width":16,"height":25,"data":{"values":[{"btn":"last"}]},"layer":[
     {"mark":{"type":"rect","fill":"#3e3e3e"},"encoding":{"x":{"datum":0,"type":"quantitative","scale":{"domain":[0,1],"nice":false,"zero":false},"axis":null},"x2":{"datum":1},"y":{"datum":0,"type":"quantitative","scale":{"domain":[0,1],"nice":false,"zero":false},"axis":null},"y2":{"datum":1}}},
     {"mark":{"type":"rect","fill":"#e0e0e0","x2Offset":-2,"yOffset":-2},"encoding":{"x":{"datum":0,"type":"quantitative"},"x2":{"datum":1},"y":{"datum":0,"type":"quantitative"},"y2":{"datum":1}}},
     {"mark":{"type":"rect","fill":"#a0a0a0","xOffset":1,"x2Offset":-2,"yOffset":-2,"y2Offset":1},"encoding":{"x":{"datum":0,"type":"quantitative"},"x2":{"datum":1},"y":{"datum":0,"type":"quantitative"},"y2":{"datum":1}}},
     {"mark":{"type":"point","shape":"M-1,-1L0,0L-1,1ZM0,-1L1,0L0,1Z","filled":true,"size":90,"color":"#0000e0","opacity":1},"encoding":{}}
    ]}
   ]},
   {"spacing":1,"hconcat":[
    {"width":16,"height":25,"data":{"values":[{"btn":"first"}]},"layer":[
     {"mark":{"type":"rect","fill":"#3e3e3e"},"encoding":{"x":{"datum":0,"type":"quantitative","scale":{"domain":[0,1],"nice":false,"zero":false},"axis":null},"x2":{"datum":1},"y":{"datum":0,"type":"quantitative","scale":{"domain":[0,1],"nice":false,"zero":false},"axis":null},"y2":{"datum":1}}},
     {"mark":{"type":"rect","fill":"#e0e0e0","x2Offset":-2,"yOffset":-2},"encoding":{"x":{"datum":0,"type":"quantitative"},"x2":{"datum":1},"y":{"datum":0,"type":"quantitative"},"y2":{"datum":1}}},
     {"mark":{"type":"rect","fill":"#a0a0a0","xOffset":1,"x2Offset":-2,"yOffset":-2,"y2Offset":1},"encoding":{"x":{"datum":0,"type":"quantitative"},"x2":{"datum":1},"y":{"datum":0,"type":"quantitative"},"y2":{"datum":1}}},
     {"mark":{"type":"point","shape":"M0,-1L-1,0L0,1ZM1,-1L0,0L1,1Z","filled":true,"size":90,"color":"#0000e0","opacity":1},"encoding":{}}
    ]},
    {"width":16,"height":25,"data":{"values":[{"btn":"prev"}]},"layer":[
     {"mark":{"type":"rect","fill":"#3e3e3e"},"encoding":{"x":{"datum":0,"type":"quantitative","scale":{"domain":[0,1],"nice":false,"zero":false},"axis":null},"x2":{"datum":1},"y":{"datum":0,"type":"quantitative","scale":{"domain":[0,1],"nice":false,"zero":false},"axis":null},"y2":{"datum":1}}},
     {"mark":{"type":"rect","fill":"#e0e0e0","x2Offset":-2,"yOffset":-2},"encoding":{"x":{"datum":0,"type":"quantitative"},"x2":{"datum":1},"y":{"datum":0,"type":"quantitative"},"y2":{"datum":1}}},
     {"mark":{"type":"rect","fill":"#a0a0a0","xOffset":1,"x2Offset":-2,"yOffset":-2,"y2Offset":1},"encoding":{"x":{"datum":0,"type":"quantitative"},"x2":{"datum":1},"y":{"datum":0,"type":"quantitative"},"y2":{"datum":1}}},
     {"mark":{"type":"point","shape":"M0.5,-1L-0.5,0L0.5,1Z","filled":true,"size":90,"color":"#0000e0","opacity":1},"encoding":{}}
    ]},
    {"width":47,"height":25,"data":{"values":[{"label":"1.0"}]},"layer":[
     {"mark":{"type":"rect","fill":"#e0e0e0"},"encoding":{"x":{"datum":0,"type":"quantitative","scale":{"domain":[0,1],"nice":false,"zero":false},"axis":null},"x2":{"datum":1},"y":{"datum":0,"type":"quantitative","scale":{"domain":[0,1],"nice":false,"zero":false},"axis":null},"y2":{"datum":1}}},
     {"mark":{"type":"rect","fill":"#5c5c5c","x2Offset":-1,"yOffset":-1},"encoding":{"x":{"datum":0,"type":"quantitative"},"x2":{"datum":1},"y":{"datum":0,"type":"quantitative"},"y2":{"datum":1}}},
     {"mark":{"type":"rect","fill":"#a0a0a0","xOffset":1,"x2Offset":-1,"yOffset":-1,"y2Offset":1},"encoding":{"x":{"datum":0,"type":"quantitative"},"x2":{"datum":1},"y":{"datum":0,"type":"quantitative"},"y2":{"datum":1}}},
     {"mark":{"type":"text","fontSize":9},"encoding":{"text":{"field":"label"}}}
    ]},
    {"width":16,"height":25,"data":{"values":[{"btn":"next"}]},"layer":[
     {"mark":{"type":"rect","fill":"#3e3e3e"},"encoding":{"x":{"datum":0,"type":"quantitative","scale":{"domain":[0,1],"nice":false,"zero":false},"axis":null},"x2":{"datum":1},"y":{"datum":0,"type":"quantitative","scale":{"domain":[0,1],"nice":false,"zero":false},"axis":null},"y2":{"datum":1}}},
     {"mark":{"type":"rect","fill":"#e0e0e0","x2Offset":-2,"yOffset":-2},"encoding":{"x":{"datum":0,"type":"quantitative"},"x2":{"datum":1},"y":{"datum":0,"type":"quantitative"},"y2":{"datum":1}}},
     {"mark":{"type":"rect","fill":"#a0a0a0","xOffset":1,"x2Offset":-2,"yOffset":-2,"y2Offset":1},"encoding":{"x":{"datum":0,"type":"quantitative"},"x2":{"datum":1},"y":{"datum":0,"type":"quantitative"},"y2":{"datum":1}}},
     {"mark":{"type":"point","shape":"M-0.5,-1L0.5,0L-0.5,1Z","filled":true,"size":90,"color":"#0000e0","opacity":1},"encoding":{}}
    ]},
    {"width":16,"height":25,"data":{"values":[{"btn":"last"}]},"layer":[
     {"mark":{"type":"rect","fill":"#3e3e3e"},"encoding":{"x":{"datum":0,"type":"quantitative","scale":{"domain":[0,1],"nice":false,"zero":false},"axis":null},"x2":{"datum":1},"y":{"datum":0,"type":"quantitative","scale":{"domain":[0,1],"nice":false,"zero":false},"axis":null},"y2":{"datum":1}}},
     {"mark":{"type":"rect","fill":"#e0e0e0","x2Offset":-2,"yOffset":-2},"encoding":{"x":{"datum":0,"type":"quantitative"},"x2":{"datum":1},"y":{"datum":0,"type":"quantitative"},"y2":{"datum":1}}},
     {"mark":{"type":"rect","fill":"#a0a0a0","xOffset":1,"x2Offset":-2,"yOffset":-2,"y2Offset":1},"encoding":{"x":{"datum":0,"type":"quantitative"},"x2":{"datum":1},"y":{"datum":0,"type":"quantitative"},"y2":{"datum":1}}},
     {"mark":{"type":"point","shape":"M-1,-1L0,0L-1,1ZM0,-1L1,0L0,1Z","filled":true,"size":90,"color":"#0000e0","opacity":1},"encoding":{}}
    ]}
   ]}
  ]},
  {"spacing":1,"hconcat":[
   {"width":45,"height":26,"data":{"values":[{"dir":"left"}]},"layer":[
    {"mark":{"type":"rect","fill":"#3e3e3e"},"encoding":{"x":{"datum":0,"type":"quantitative","scale":{"domain":[0,1],"nice":false,"zero":false},"axis":null},"x2":{"datum":1},"y":{"datum":0,"type":"quantitative","scale":{"domain":[0,1],"nice":false,"zero":false},"axis":null},"y2":{"datum":1}}},
    {"mark":{"type":"rect","fill":"#e0e0e0","x2Offset":-2,"yOffset":-2},"encoding":{"x":{"datum":0,"type":"quantitative"},"x2":{"datum":1},"y":{"datum":0,"type":"quantitative"},"y2":{"datum":1}}},
    {"mark":{"type":"rect","fill":"#a0a0a0","xOffset":1,"x2Offset":-2,"yOffset":-2,"y2Offset":1},"encoding":{"x":{"datum":0,"type":"quantitative"},"x2":{"datum":1},"y":{"datum":0,"type":"quantitative"},"y2":{"datum":1}}},
    {"mark":{"type":"point","shape":"M1,-0.4L-1,0","filled":false,"size":1600,"stroke":"#e4e4e4","strokeWidth":1,"opacity":1},"encoding":{}},
    {"mark":{"type":"point","shape":"M-1,0L1,0.4","filled":false,"size":1600,"stroke":"#505050","strokeWidth":1,"opacity":1},"encoding":{}}
   ]},
   {"width":69,"height":26,"data":{"values":[{"label":"0"}]},"layer":[
    {"mark":{"type":"rect","fill":"#e0e0e0"},"encoding":{"x":{"datum":0,"type":"quantitative","scale":{"domain":[0,1],"nice":false,"zero":false},"axis":null},"x2":{"datum":1},"y":{"datum":0,"type":"quantitative","scale":{"domain":[0,1],"nice":false,"zero":false},"axis":null},"y2":{"datum":1}}},
    {"mark":{"type":"rect","fill":"#5c5c5c","x2Offset":-1,"yOffset":-1},"encoding":{"x":{"datum":0,"type":"quantitative"},"x2":{"datum":1},"y":{"datum":0,"type":"quantitative"},"y2":{"datum":1}}},
    {"mark":{"type":"rect","fill":"#a0a0a0","xOffset":1,"x2Offset":-1,"yOffset":-1,"y2Offset":1},"encoding":{"x":{"datum":0,"type":"quantitative"},"x2":{"datum":1},"y":{"datum":0,"type":"quantitative"},"y2":{"datum":1}}},
    {"mark":{"type":"text","fontSize":8},"encoding":{"text":{"field":"label"}}}
   ]},
   {"width":331,"height":26,"data":{"values":[{"pos":0}]},"layer":[
    {"mark":{"type":"rect","fill":"#e0e0e0"},"encoding":{"x":{"datum":0,"type":"quantitative","scale":{"domain":[0,10],"nice":false,"zero":false},"axis":null},"x2":{"datum":10},"y":{"datum":0,"type":"quantitative","scale":{"domain":[0,1],"nice":false,"zero":false},"axis":null},"y2":{"datum":1}}},
    {"mark":{"type":"rect","fill":"#5c5c5c","x2Offset":-1,"yOffset":-1},"encoding":{"x":{"datum":0,"type":"quantitative"},"x2":{"datum":10},"y":{"datum":0,"type":"quantitative"},"y2":{"datum":1}}},
    {"mark":{"type":"rect","fill":"#a0a0a0","xOffset":1,"x2Offset":-1,"yOffset":-1,"y2Offset":1},"encoding":{"x":{"datum":0,"type":"quantitative"},"x2":{"datum":10},"y":{"datum":0,"type":"quantitative"},"y2":{"datum":1}}},
    {"mark":{"type":"rect","fill":"#3e3e3e","xOffset":1,"yOffset":-2,"y2Offset":2},"encoding":{"x":{"field":"pos","type":"quantitative"},"x2":{"datum":1},"y":{"datum":0,"type":"quantitative"},"y2":{"datum":1}}},
    {"mark":{"type":"rect","fill":"#e0e0e0","xOffset":1,"x2Offset":-2,"yOffset":-4,"y2Offset":2},"encoding":{"x":{"field":"pos","type":"quantitative"},"x2":{"datum":1},"y":{"datum":0,"type":"quantitative"},"y2":{"datum":1}}},
    {"mark":{"type":"rect","fill":"#a0a0a0","xOffset":2,"x2Offset":-2,"yOffset":-4,"y2Offset":3},"encoding":{"x":{"field":"pos","type":"quantitative"},"x2":{"datum":1},"y":{"datum":0,"type":"quantitative"},"y2":{"datum":1}}}
   ]},
   {"width":44,"height":26,"data":{"values":[{"dir":"right"}]},"layer":[
    {"mark":{"type":"rect","fill":"#3e3e3e"},"encoding":{"x":{"datum":0,"type":"quantitative","scale":{"domain":[0,1],"nice":false,"zero":false},"axis":null},"x2":{"datum":1},"y":{"datum":0,"type":"quantitative","scale":{"domain":[0,1],"nice":false,"zero":false},"axis":null},"y2":{"datum":1}}},
    {"mark":{"type":"rect","fill":"#e0e0e0","x2Offset":-2,"yOffset":-2},"encoding":{"x":{"datum":0,"type":"quantitative"},"x2":{"datum":1},"y":{"datum":0,"type":"quantitative"},"y2":{"datum":1}}},
    {"mark":{"type":"rect","fill":"#a0a0a0","xOffset":1,"x2Offset":-2,"yOffset":-2,"y2Offset":1},"encoding":{"x":{"datum":0,"type":"quantitative"},"x2":{"datum":1},"y":{"datum":0,"type":"quantitative"},"y2":{"datum":1}}},
    {"mark":{"type":"point","shape":"M-1,-0.4L1,0","filled":false,"size":1600,"stroke":"#e4e4e4","strokeWidth":1,"opacity":1},"encoding":{}},
    {"mark":{"type":"point","shape":"M1,0L-1,0.4","filled":false,"size":1600,"stroke":"#505050","strokeWidth":1,"opacity":1},"encoding":{}}
   ]}
  ]},
  {"width":492,"height":16,"data":{"values":[{}]},"mark":{"type":"rect","opacity":0},"encoding":{"x":{"datum":0,"type":"quantitative","axis":null},"x2":{"datum":1},"y":{"datum":0,"type":"quantitative","axis":null},"y2":{"datum":1}}},
  {"width":492,"height":42,"data":{"values":[{"label":"Database"}]},"layer":[
   {"mark":{"type":"rect","fill":"#606060"},"encoding":{"x":{"datum":0,"type":"quantitative","scale":{"domain":[0,1],"nice":false,"zero":false},"axis":null},"x2":{"datum":1},"y":{"datum":0,"type":"quantitative","scale":{"domain":[0,1],"nice":false,"zero":false},"axis":null},"y2":{"datum":1}}},
   {"mark":{"type":"rect","fill":"#d8d8d8","x2Offset":-1,"yOffset":-1},"encoding":{"x":{"datum":0,"type":"quantitative"},"x2":{"datum":1},"y":{"datum":0,"type":"quantitative"},"y2":{"datum":1}}},
   {"mark":{"type":"rect","fill":"#a0a0a0","xOffset":1,"x2Offset":-1,"yOffset":-1,"y2Offset":1},"encoding":{"x":{"datum":0,"type":"quantitative"},"x2":{"datum":1},"y":{"datum":0,"type":"quantitative"},"y2":{"datum":1}}},
   {"mark":{"type":"text","fontWeight":"bold","fontSize":12},"encoding":{"text":{"field":"label"}}}
  ]},
  {"spacing":10,"hconcat":[
   {"width":115,"height":115,"view":{"fill":"#000000","stroke":null},"data":{"name":"series"},"transform":[{"filter":"datum.set==='db' && datum.panel===1"}],"mark":{"type":"line","color":"#e8e8e8","strokeWidth":1,"strokeJoin":"round","clip":true},"encoding":{"x":{"field":"t","type":"quantitative","axis":null,"scale":{"domain":[0,32],"nice":false}},"y":{"field":"v","type":"quantitative","axis":null,"scale":{"zero":false,"nice":false}}}},
   {"width":115,"height":115,"view":{"fill":"#000000","stroke":null},"data":{"name":"series"},"transform":[{"filter":"datum.set==='db' && datum.panel===2"}],"mark":{"type":"line","color":"#e8e8e8","strokeWidth":1,"strokeJoin":"round","clip":true},"encoding":{"x":{"field":"t","type":"quantitative","axis":null,"scale":{"domain":[0,32],"nice":false}},"y":{"field":"v","type":"quantitative","axis":null,"scale":{"zero":false,"nice":false}}}},
   {"width":115,"height":115,"view":{"fill":"#000000","stroke":null},"data":{"name":"series"},"transform":[{"filter":"datum.set==='db' && datum.panel===3"}],"mark":{"type":"line","color":"#e8e8e8","strokeWidth":1,"strokeJoin":"round","clip":true},"encoding":{"x":{"field":"t","type":"quantitative","axis":null,"scale":{"domain":[0,32],"nice":false}},"y":{"field":"v","type":"quantitative","axis":null,"scale":{"zero":false,"nice":false}}}},
   {"width":115,"height":115,"view":{"fill":"#000000","stroke":null},"data":{"name":"series"},"transform":[{"filter":"datum.set==='db' && datum.panel===4"}],"mark":{"type":"line","color":"#e8e8e8","strokeWidth":1,"strokeJoin":"round","clip":true},"encoding":{"x":{"field":"t","type":"quantitative","axis":null,"scale":{"domain":[0,32],"nice":false}},"y":{"field":"v","type":"quantitative","axis":null,"scale":{"zero":false,"nice":false}}}}
  ]},
  {"spacing":10,"hconcat":[
   {"width":115,"height":22,"data":{"values":[{"label":"Add"}]},"layer":[
    {"mark":{"type":"rect","fill":"#3e3e3e"},"encoding":{"x":{"datum":0,"type":"quantitative","scale":{"domain":[0,1],"nice":false,"zero":false},"axis":null},"x2":{"datum":1},"y":{"datum":0,"type":"quantitative","scale":{"domain":[0,1],"nice":false,"zero":false},"axis":null},"y2":{"datum":1}}},
    {"mark":{"type":"rect","fill":"#e0e0e0","x2Offset":-2,"yOffset":-2},"encoding":{"x":{"datum":0,"type":"quantitative"},"x2":{"datum":1},"y":{"datum":0,"type":"quantitative"},"y2":{"datum":1}}},
    {"mark":{"type":"rect","fill":"#a0a0a0","xOffset":1,"x2Offset":-2,"yOffset":-2,"y2Offset":1},"encoding":{"x":{"datum":0,"type":"quantitative"},"x2":{"datum":1},"y":{"datum":0,"type":"quantitative"},"y2":{"datum":1}}},
    {"mark":{"type":"text","fontSize":9.5,"color":"#111"},"encoding":{"text":{"field":"label"}}}
   ]},
   {"width":115,"height":22,"data":{"values":[{"label":"Add"}]},"layer":[
    {"mark":{"type":"rect","fill":"#3e3e3e"},"encoding":{"x":{"datum":0,"type":"quantitative","scale":{"domain":[0,1],"nice":false,"zero":false},"axis":null},"x2":{"datum":1},"y":{"datum":0,"type":"quantitative","scale":{"domain":[0,1],"nice":false,"zero":false},"axis":null},"y2":{"datum":1}}},
    {"mark":{"type":"rect","fill":"#e0e0e0","x2Offset":-2,"yOffset":-2},"encoding":{"x":{"datum":0,"type":"quantitative"},"x2":{"datum":1},"y":{"datum":0,"type":"quantitative"},"y2":{"datum":1}}},
    {"mark":{"type":"rect","fill":"#a0a0a0","xOffset":1,"x2Offset":-2,"yOffset":-2,"y2Offset":1},"encoding":{"x":{"datum":0,"type":"quantitative"},"x2":{"datum":1},"y":{"datum":0,"type":"quantitative"},"y2":{"datum":1}}},
    {"mark":{"type":"text","fontSize":9.5,"color":"#111"},"encoding":{"text":{"field":"label"}}}
   ]},
   {"width":115,"height":22,"data":{"values":[{"label":"Add"}]},"layer":[
    {"mark":{"type":"rect","fill":"#3e3e3e"},"encoding":{"x":{"datum":0,"type":"quantitative","scale":{"domain":[0,1],"nice":false,"zero":false},"axis":null},"x2":{"datum":1},"y":{"datum":0,"type":"quantitative","scale":{"domain":[0,1],"nice":false,"zero":false},"axis":null},"y2":{"datum":1}}},
    {"mark":{"type":"rect","fill":"#e0e0e0","x2Offset":-2,"yOffset":-2},"encoding":{"x":{"datum":0,"type":"quantitative"},"x2":{"datum":1},"y":{"datum":0,"type":"quantitative"},"y2":{"datum":1}}},
    {"mark":{"type":"rect","fill":"#a0a0a0","xOffset":1,"x2Offset":-2,"yOffset":-2,"y2Offset":1},"encoding":{"x":{"datum":0,"type":"quantitative"},"x2":{"datum":1},"y":{"datum":0,"type":"quantitative"},"y2":{"datum":1}}},
    {"mark":{"type":"text","fontSize":9.5,"color":"#111"},"encoding":{"text":{"field":"label"}}}
   ]},
   {"width":115,"height":22,"data":{"values":[{"label":"Add"}]},"layer":[
    {"mark":{"type":"rect","fill":"#3e3e3e"},"encoding":{"x":{"datum":0,"type":"quantitative","scale":{"domain":[0,1],"nice":false,"zero":false},"axis":null},"x2":{"datum":1},"y":{"datum":0,"type":"quantitative","scale":{"domain":[0,1],"nice":false,"zero":false},"axis":null},"y2":{"datum":1}}},
    {"mark":{"type":"rect","fill":"#e0e0e0","x2Offset":-2,"yOffset":-2},"encoding":{"x":{"datum":0,"type":"quantitative"},"x2":{"datum":1},"y":{"datum":0,"type":"quantitative"},"y2":{"datum":1}}},
    {"mark":{"type":"rect","fill":"#a0a0a0","xOffset":1,"x2Offset":-2,"yOffset":-2,"y2Offset":1},"encoding":{"x":{"datum":0,"type":"quantitative"},"x2":{"datum":1},"y":{"datum":0,"type":"quantitative"},"y2":{"datum":1}}},
    {"mark":{"type":"text","fontSize":9.5,"color":"#111"},"encoding":{"text":{"field":"label"}}}
   ]}
  ]},
  {"spacing":1,"hconcat":[
   {"width":45,"height":26,"data":{"values":[{"dir":"left"}]},"layer":[
    {"mark":{"type":"rect","fill":"#3e3e3e"},"encoding":{"x":{"datum":0,"type":"quantitative","scale":{"domain":[0,1],"nice":false,"zero":false},"axis":null},"x2":{"datum":1},"y":{"datum":0,"type":"quantitative","scale":{"domain":[0,1],"nice":false,"zero":false},"axis":null},"y2":{"datum":1}}},
    {"mark":{"type":"rect","fill":"#e0e0e0","x2Offset":-2,"yOffset":-2},"encoding":{"x":{"datum":0,"type":"quantitative"},"x2":{"datum":1},"y":{"datum":0,"type":"quantitative"},"y2":{"datum":1}}},
    {"mark":{"type":"rect","fill":"#a0a0a0","xOffset":1,"x2Offset":-2,"yOffset":-2,"y2Offset":1},"encoding":{"x":{"datum":0,"type":"quantitative"},"x2":{"datum":1},"y":{"datum":0,"type":"quantitative"},"y2":{"datum":1}}},
    {"mark":{"type":"point","shape":"M1,-0.4L-1,0","filled":false,"size":1600,"stroke":"#e4e4e4","strokeWidth":1,"opacity":1},"encoding":{}},
    {"mark":{"type":"point","shape":"M-1,0L1,0.4","filled":false,"size":1600,"stroke":"#505050","strokeWidth":1,"opacity":1},"encoding":{}}
   ]},
   {"width":69,"height":26,"data":{"values":[{"label":"9"}]},"layer":[
    {"mark":{"type":"rect","fill":"#e0e0e0"},"encoding":{"x":{"datum":0,"type":"quantitative","scale":{"domain":[0,1],"nice":false,"zero":false},"axis":null},"x2":{"datum":1},"y":{"datum":0,"type":"quantitative","scale":{"domain":[0,1],"nice":false,"zero":false},"axis":null},"y2":{"datum":1}}},
    {"mark":{"type":"rect","fill":"#5c5c5c","x2Offset":-1,"yOffset":-1},"encoding":{"x":{"datum":0,"type":"quantitative"},"x2":{"datum":1},"y":{"datum":0,"type":"quantitative"},"y2":{"datum":1}}},
    {"mark":{"type":"rect","fill":"#a0a0a0","xOffset":1,"x2Offset":-1,"yOffset":-1,"y2Offset":1},"encoding":{"x":{"datum":0,"type":"quantitative"},"x2":{"datum":1},"y":{"datum":0,"type":"quantitative"},"y2":{"datum":1}}},
    {"mark":{"type":"text","fontSize":8},"encoding":{"text":{"field":"label"}}}
   ]},
   {"width":331,"height":26,"data":{"values":[{"pos":0}]},"layer":[
    {"mark":{"type":"rect","fill":"#e0e0e0"},"encoding":{"x":{"datum":0,"type":"quantitative","scale":{"domain":[0,10],"nice":false,"zero":false},"axis":null},"x2":{"datum":10},"y":{"datum":0,"type":"quantitative","scale":{"domain":[0,1],"nice":false,"zero":false},"axis":null},"y2":{"datum":1}}},
    {"mark":{"type":"rect","fill":"#5c5c5c","x2Offset":-1,"yOffset":-1},"encoding":{"x":{"datum":0,"type":"quantitative"},"x2":{"datum":10},"y":{"datum":0,"type":"quantitative"},"y2":{"datum":1}}},
    {"mark":{"type":"rect","fill":"#a0a0a0","xOffset":1,"x2Offset":-1,"yOffset":-1,"y2Offset":1},"encoding":{"x":{"datum":0,"type":"quantitative"},"x2":{"datum":10},"y":{"datum":0,"type":"quantitative"},"y2":{"datum":1}}},
    {"mark":{"type":"rect","fill":"#3e3e3e","xOffset":1,"yOffset":-2,"y2Offset":2},"encoding":{"x":{"field":"pos","type":"quantitative"},"x2":{"datum":1},"y":{"datum":0,"type":"quantitative"},"y2":{"datum":1}}},
    {"mark":{"type":"rect","fill":"#e0e0e0","xOffset":1,"x2Offset":-2,"yOffset":-4,"y2Offset":2},"encoding":{"x":{"field":"pos","type":"quantitative"},"x2":{"datum":1},"y":{"datum":0,"type":"quantitative"},"y2":{"datum":1}}},
    {"mark":{"type":"rect","fill":"#a0a0a0","xOffset":2,"x2Offset":-2,"yOffset":-4,"y2Offset":3},"encoding":{"x":{"field":"pos","type":"quantitative"},"x2":{"datum":1},"y":{"datum":0,"type":"quantitative"},"y2":{"datum":1}}}
   ]},
   {"width":44,"height":26,"data":{"values":[{"dir":"right"}]},"layer":[
    {"mark":{"type":"rect","fill":"#3e3e3e"},"encoding":{"x":{"datum":0,"type":"quantitative","scale":{"domain":[0,1],"nice":false,"zero":false},"axis":null},"x2":{"datum":1},"y":{"datum":0,"type":"quantitative","scale":{"domain":[0,1],"nice":false,"zero":false},"axis":null},"y2":{"datum":1}}},
    {"mark":{"type":"rect","fill":"#e0e0e0","x2Offset":-2,"yOffset":-2},"encoding":{"x":{"datum":0,"type":"quantitative"},"x2":{"datum":1},"y":{"datum":0,"type":"quantitative"},"y2":{"datum":1}}},
    {"mark":{"type":"rect","fill":"#a0a0a0","xOffset":1,"x2Offset":-2,"yOffset":-2,"y2Offset":1},"encoding":{"x":{"datum":0,"type":"quantitative"},"x2":{"datum":1},"y":{"datum":0,"type":"quantitative"},"y2":{"datum":1}}},
    {"mark":{"type":"point","shape":"M-1,-0.4L1,0","filled":false,"size":1600,"stroke":"#e4e4e4","strokeWidth":1,"opacity":1},"encoding":{}},
    {"mark":{"type":"point","shape":"M1,0L-1,0.4","filled":false,"size":1600,"stroke":"#505050","strokeWidth":1,"opacity":1},"encoding":{}}
   ]}
  ]}
 ]},
 {"spacing":0,"vconcat":[
  {"width":229,"height":53,"data":{"values":[{"label":"Options"}]},"layer":[
   {"mark":{"type":"rect","fill":"#606060"},"encoding":{"x":{"datum":0,"type":"quantitative","scale":{"domain":[0,1],"nice":false,"zero":false},"axis":null},"x2":{"datum":1},"y":{"datum":0,"type":"quantitative","scale":{"domain":[0,1],"nice":false,"zero":false},"axis":null},"y2":{"datum":1}}},
   {"mark":{"type":"rect","fill":"#d8d8d8","x2Offset":-1,"yOffset":-1},"encoding":{"x":{"datum":0,"type":"quantitative"},"x2":{"datum":1},"y":{"datum":0,"type":"quantitative"},"y2":{"datum":1}}},
   {"mark":{"type":"rect","fill":"#a0a0a0","xOffset":1,"x2Offset":-1,"yOffset":-1,"y2Offset":1},"encoding":{"x":{"datum":0,"type":"quantitative"},"x2":{"datum":1},"y":{"datum":0,"type":"quantitative"},"y2":{"datum":1}}},
   {"mark":{"type":"text","fontSize":13},"encoding":{"text":{"field":"label"}}}
  ]},
  {"width":229,"height":205,
   "data":{"values":[{"item":"Query Database"},{"item":"Reset"},{"item":"About"},{"item":"Quit"}]},
   "resolve":{"scale":{"x":"independent","y":"independent"}},
   "layer":[
    {"transform":[{"filter":"datum.item==='Quit'"}],"mark":{"type":"rect","fillOpacity":0,"stroke":"#6a6a6a","strokeWidth":1,"xOffset":0.5,"x2Offset":-0.5,"yOffset":-0.5,"y2Offset":0.5},"encoding":{"x":{"datum":0,"type":"quantitative","scale":{"domain":[0,1],"nice":false,"zero":false},"axis":null},"x2":{"datum":1},"y":{"datum":0,"type":"quantitative","scale":{"domain":[0,1],"nice":false,"zero":false},"axis":null},"y2":{"datum":1}}},
    {"mark":{"type":"arc","radius":9.5,"radius2":7.5,"theta":-2.356,"theta2":0.785,"color":"#d4d4d4"},"encoding":{"x":{"datum":"radio","type":"nominal","scale":{"type":"point","domain":["radio","label"],"range":[32,49],"padding":0},"axis":null},"y":{"field":"item","type":"nominal","scale":{"type":"point","domain":["Query Database","Reset","About","Quit"],"range":[23,130],"padding":0},"axis":null}}},
    {"mark":{"type":"arc","radius":9.5,"radius2":7.5,"theta":0.785,"theta2":3.927,"color":"#5c5c5c"},"encoding":{"x":{"datum":"radio","type":"nominal","scale":{"type":"point","domain":["radio","label"],"range":[32,49],"padding":0},"axis":null},"y":{"field":"item","type":"nominal","scale":{"type":"point","domain":["Query Database","Reset","About","Quit"],"range":[23,130],"padding":0},"axis":null}}},
    {"mark":{"type":"text","align":"left","font":"Liberation Mono","fontWeight":"bold","fontSize":10.5},"encoding":{"x":{"datum":"label","type":"nominal","scale":{"type":"point","domain":["radio","label"],"range":[32,49],"padding":0},"axis":null},"y":{"field":"item","type":"nominal","scale":{"type":"point","domain":["Query Database","Reset","About","Quit"],"range":[23,130],"padding":0},"axis":null},"text":{"field":"item"}}}
   ]},
  {"width":229,"height":43,"data":{"values":[{}]},"mark":{"type":"rect","opacity":0},"encoding":{"x":{"datum":0,"type":"quantitative","axis":null},"x2":{"datum":1},"y":{"datum":0,"type":"quantitative","axis":null},"y2":{"datum":1}}},
  {"width":229,"height":170,"data":{"values":[{"msg":"Search completed."}]},"layer":[
   {"mark":{"type":"rect","fillOpacity":0,"stroke":"#6c6c6c","strokeWidth":1,"xOffset":0.5,"x2Offset":-0.5,"yOffset":-0.5,"y2Offset":0.5},"encoding":{"x":{"datum":0,"type":"quantitative","scale":{"domain":[0,1],"nice":false,"zero":false},"axis":null},"x2":{"datum":1},"y":{"datum":0,"type":"quantitative","scale":{"domain":[0,1],"nice":false,"zero":false},"axis":null},"y2":{"datum":1}}},
   {"mark":{"type":"rect","fill":"#a0a0a0","stroke":"#d8d8d8","strokeWidth":1.5},"encoding":{"x":{"datum":0.044,"type":"quantitative"},"x2":{"datum":0.983},"y":{"datum":0.047,"type":"quantitative"},"y2":{"datum":0.929}}},
   {"mark":{"type":"text","align":"left","fontSize":9.5},"encoding":{"x":{"datum":0.057,"type":"quantitative"},"text":{"field":"msg"}}}
  ]}
 ]}
]}
]
}
